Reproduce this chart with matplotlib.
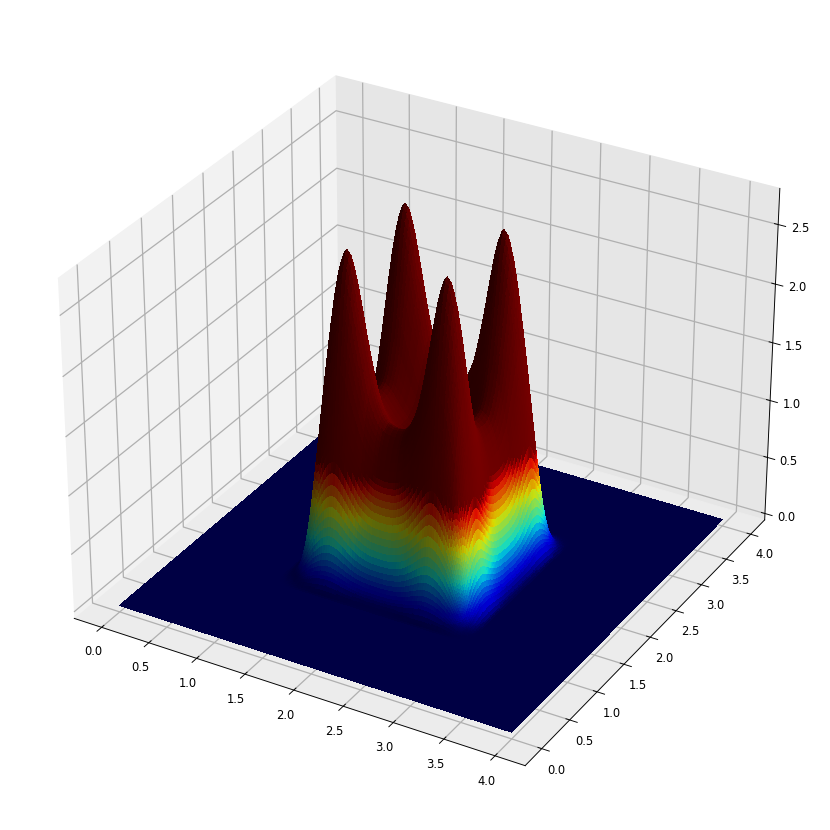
import numpy as np
import matplotlib
matplotlib.use("Agg")
import matplotlib.pyplot as plt
from matplotlib.colors import LightSource, Normalize

# sample positions from the edge to the middle, the surface looks mirrored about 2.0
half_grid = [0.0, 0.25, 0.5, 0.75,
             1.0, 1.02, 1.04, 1.06, 1.08,
             1.1, 1.11, 1.12, 1.13, 1.14, 1.15, 1.16, 1.17, 1.18, 1.19, 1.2,
             1.21, 1.22, 1.23, 1.24, 1.25, 1.26, 1.27, 1.28, 1.29, 1.3,
             1.32, 1.34, 1.36, 1.38, 1.4,
             1.425, 1.45, 1.475, 1.5, 1.525, 1.55, 1.575, 1.6, 1.625, 1.65, 1.675, 1.7,
             1.725, 1.75, 1.775, 1.8, 1.825, 1.85, 1.875, 1.9, 1.925, 1.95, 1.975, 2.0]

# profiles estimated by eye: a flat-topped wall plus the four peaks on top of it
wall_half = [0.0, 0.0, 0.0, 0.0,
             0.002, 0.006, 0.012, 0.022, 0.036,
             0.055, 0.07, 0.09, 0.112, 0.14, 0.168, 0.20, 0.238, 0.28, 0.325, 0.37,
             0.42, 0.47, 0.52, 0.57, 0.62, 0.67, 0.715, 0.76, 0.795, 0.83,
             0.89, 0.93, 0.96, 0.98, 0.99,
             1.0, 1.0, 1.0, 1.0, 1.0, 1.0, 1.0, 1.0, 1.0, 1.0, 1.0, 1.0,
             1.0, 1.0, 1.0, 1.0, 1.0, 1.0, 1.0, 1.0, 1.0, 1.0, 1.0, 1.0]
peak_half = [0.0, 0.0, 0.0, 0.0,
             0.0, 0.0, 0.005, 0.015, 0.03,
             0.05, 0.06, 0.07, 0.085, 0.10, 0.125, 0.15, 0.175, 0.20, 0.23, 0.26,
             0.29, 0.32, 0.355, 0.39, 0.43, 0.47, 0.51, 0.55, 0.595, 0.64,
             0.73, 0.82, 0.91, 1.0, 1.09,
             1.18, 1.25, 1.30, 1.32, 1.30, 1.25, 1.18, 1.09, 0.99, 0.89, 0.79, 0.70,
             0.61, 0.53, 0.47, 0.42, 0.38, 0.345, 0.32, 0.30, 0.29, 0.285, 0.28, 0.28]

grid = half_grid + [4.0 - g for g in half_grid[-2::-1]]
wall_profile = wall_half + wall_half[-2::-1]
peak_profile = peak_half + peak_half[-2::-1]

X, Y = np.meshgrid(grid, grid)
Z = np.outer(wall_profile, wall_profile) + np.outer(peak_profile, peak_profile)

colors = plt.get_cmap("jet")(Normalize(0, 1.0)(Z))

plt.rcParams["grid.linewidth"] = 1.1
fig = plt.figure(figsize=(10, 10), dpi=83)
ax = fig.add_axes([0.0165, 0.0165, 0.967, 0.967], projection="3d")
ax.plot_surface(X, Y, Z, facecolors=colors, rstride=1, cstride=1,
                linewidth=0, antialiased=False, shade=True,
                lightsource=LightSource(azdeg=45, altdeg=-19.47))

# solid panes like the reference
ax.xaxis.set_pane_color((0.95, 0.95, 0.95, 1.0))
ax.yaxis.set_pane_color((0.9, 0.9, 0.9, 1.0))
ax.zaxis.set_pane_color((0.925, 0.925, 0.925, 1.0))

fig.savefig("out.png", dpi=83)
